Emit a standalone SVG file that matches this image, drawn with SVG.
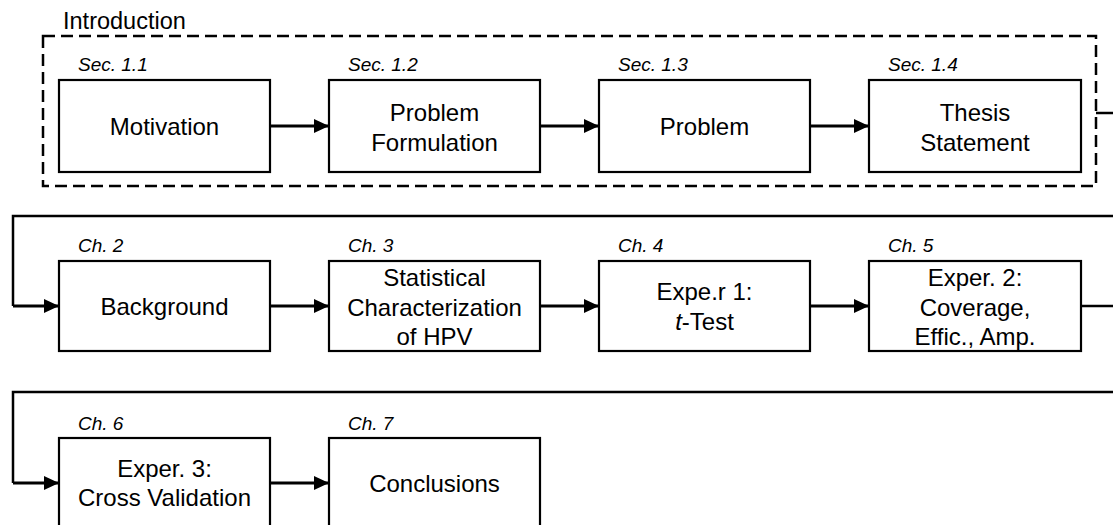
<svg xmlns="http://www.w3.org/2000/svg" width="1113" height="525" viewBox="0 0 1113 525">
  <defs>
    <style>
      .box { fill: #fff; stroke: #000; stroke-width: 2.2; }
      .lbl { font-family: "Liberation Sans", Arial, sans-serif; font-size: 24px; fill: #000; text-anchor: middle; }
      .tag { font-family: "Liberation Sans", Arial, sans-serif; font-size: 19px; font-style: italic; fill: #000; }
      .title { font-family: "Liberation Sans", Arial, sans-serif; font-size: 23.5px; fill: #000; }
      .flow { fill: none; stroke: #000; stroke-width: 3; }
      .wire { fill: none; stroke: #000; stroke-width: 2.5; }
      .group { fill: none; stroke: #000; stroke-width: 2.5; stroke-dasharray: 12 6; }
    </style>
    <marker id="head" markerUnits="userSpaceOnUse" markerWidth="15" markerHeight="14" refX="15" refY="7" orient="auto">
      <path d="M0,0 L15,7 L0,14 z" fill="#000"/>
    </marker>
  </defs>

  <!-- Chapter 1 grouping -->
  <g id="introduction">
    <rect class="group" x="43" y="36" width="1053" height="150"/>
    <text class="title" x="63" y="29">Introduction</text>
  </g>

  <!-- Row 1 -->
  <g id="motivation">
    <text class="tag" x="78" y="71">Sec. 1.1</text>
    <rect class="box" x="59" y="80" width="211" height="92"/>
    <text class="lbl" x="164.5" y="135">Motivation</text>
  </g>
  <g id="problem-formulation">
    <text class="tag" x="348" y="71">Sec. 1.2</text>
    <rect class="box" x="329" y="80" width="211" height="92"/>
    <text class="lbl" x="434.5" y="121">Problem</text>
    <text class="lbl" x="434.5" y="151">Formulation</text>
  </g>
  <g id="problem">
    <text class="tag" x="618" y="71">Sec. 1.3</text>
    <rect class="box" x="599" y="80" width="211" height="92"/>
    <text class="lbl" x="704.5" y="135">Problem</text>
  </g>
  <g id="thesis-statement">
    <text class="tag" x="888" y="71">Sec. 1.4</text>
    <rect class="box" x="869" y="80" width="212" height="92"/>
    <text class="lbl" x="975" y="121">Thesis</text>
    <text class="lbl" x="975" y="151">Statement</text>
  </g>

  <!-- Row 2 -->
  <g id="background">
    <text class="tag" x="78" y="252">Ch. 2</text>
    <rect class="box" x="59" y="261" width="211" height="90"/>
    <text class="lbl" x="164.5" y="315">Background</text>
  </g>
  <g id="hpv-characterization">
    <text class="tag" x="348" y="252">Ch. 3</text>
    <rect class="box" x="329" y="261" width="211" height="90"/>
    <text class="lbl" x="434.5" y="286">Statistical</text>
    <text class="lbl" x="434.5" y="316">Characterization</text>
    <text class="lbl" x="434.5" y="345">of HPV</text>
  </g>
  <g id="experiment-1">
    <text class="tag" x="618" y="252">Ch. 4</text>
    <rect class="box" x="599" y="261" width="211" height="90"/>
    <text class="lbl" x="704.5" y="300">Expe.r 1:</text>
    <text class="lbl" x="704.5" y="330"><tspan font-style="italic">t</tspan>-Test</text>
  </g>
  <g id="experiment-2">
    <text class="tag" x="888" y="252">Ch. 5</text>
    <rect class="box" x="869" y="261" width="212" height="90"/>
    <text class="lbl" x="975" y="286">Exper. 2:</text>
    <text class="lbl" x="975" y="316">Coverage,</text>
    <text class="lbl" x="975" y="345">Effic., Amp.</text>
  </g>

  <!-- Row 3 -->
  <g id="experiment-3">
    <text class="tag" x="78" y="430">Ch. 6</text>
    <rect class="box" x="59" y="438" width="211" height="92"/>
    <text class="lbl" x="164.5" y="477">Exper. 3:</text>
    <text class="lbl" x="164.5" y="506">Cross Validation</text>
  </g>
  <g id="conclusions">
    <text class="tag" x="348" y="430">Ch. 7</text>
    <rect class="box" x="329" y="438" width="211" height="92"/>
    <text class="lbl" x="434.5" y="492">Conclusions</text>
  </g>

  <!-- Connectors -->
  <g id="connectors">
    <line class="flow" x1="270" y1="126" x2="329" y2="126" marker-end="url(#head)"/>
    <line class="flow" x1="540" y1="126" x2="599" y2="126" marker-end="url(#head)"/>
    <line class="flow" x1="810" y1="126" x2="869" y2="126" marker-end="url(#head)"/>

    <line class="wire" x1="1096" y1="113" x2="1120" y2="113"/>
    <path class="wire" d="M1120,216 H13 V306"/>
    <path class="flow" d="M13,306 H59" marker-end="url(#head)"/>

    <line class="flow" x1="270" y1="306" x2="329" y2="306" marker-end="url(#head)"/>
    <line class="flow" x1="540" y1="306" x2="599" y2="306" marker-end="url(#head)"/>
    <line class="flow" x1="810" y1="306" x2="869" y2="306" marker-end="url(#head)"/>

    <line class="wire" x1="1081" y1="306" x2="1120" y2="306"/>
    <path class="wire" d="M1120,392 H13 V483"/>
    <path class="flow" d="M13,483 H59" marker-end="url(#head)"/>

    <line class="flow" x1="270" y1="483" x2="329" y2="483" marker-end="url(#head)"/>
  </g>
</svg>
